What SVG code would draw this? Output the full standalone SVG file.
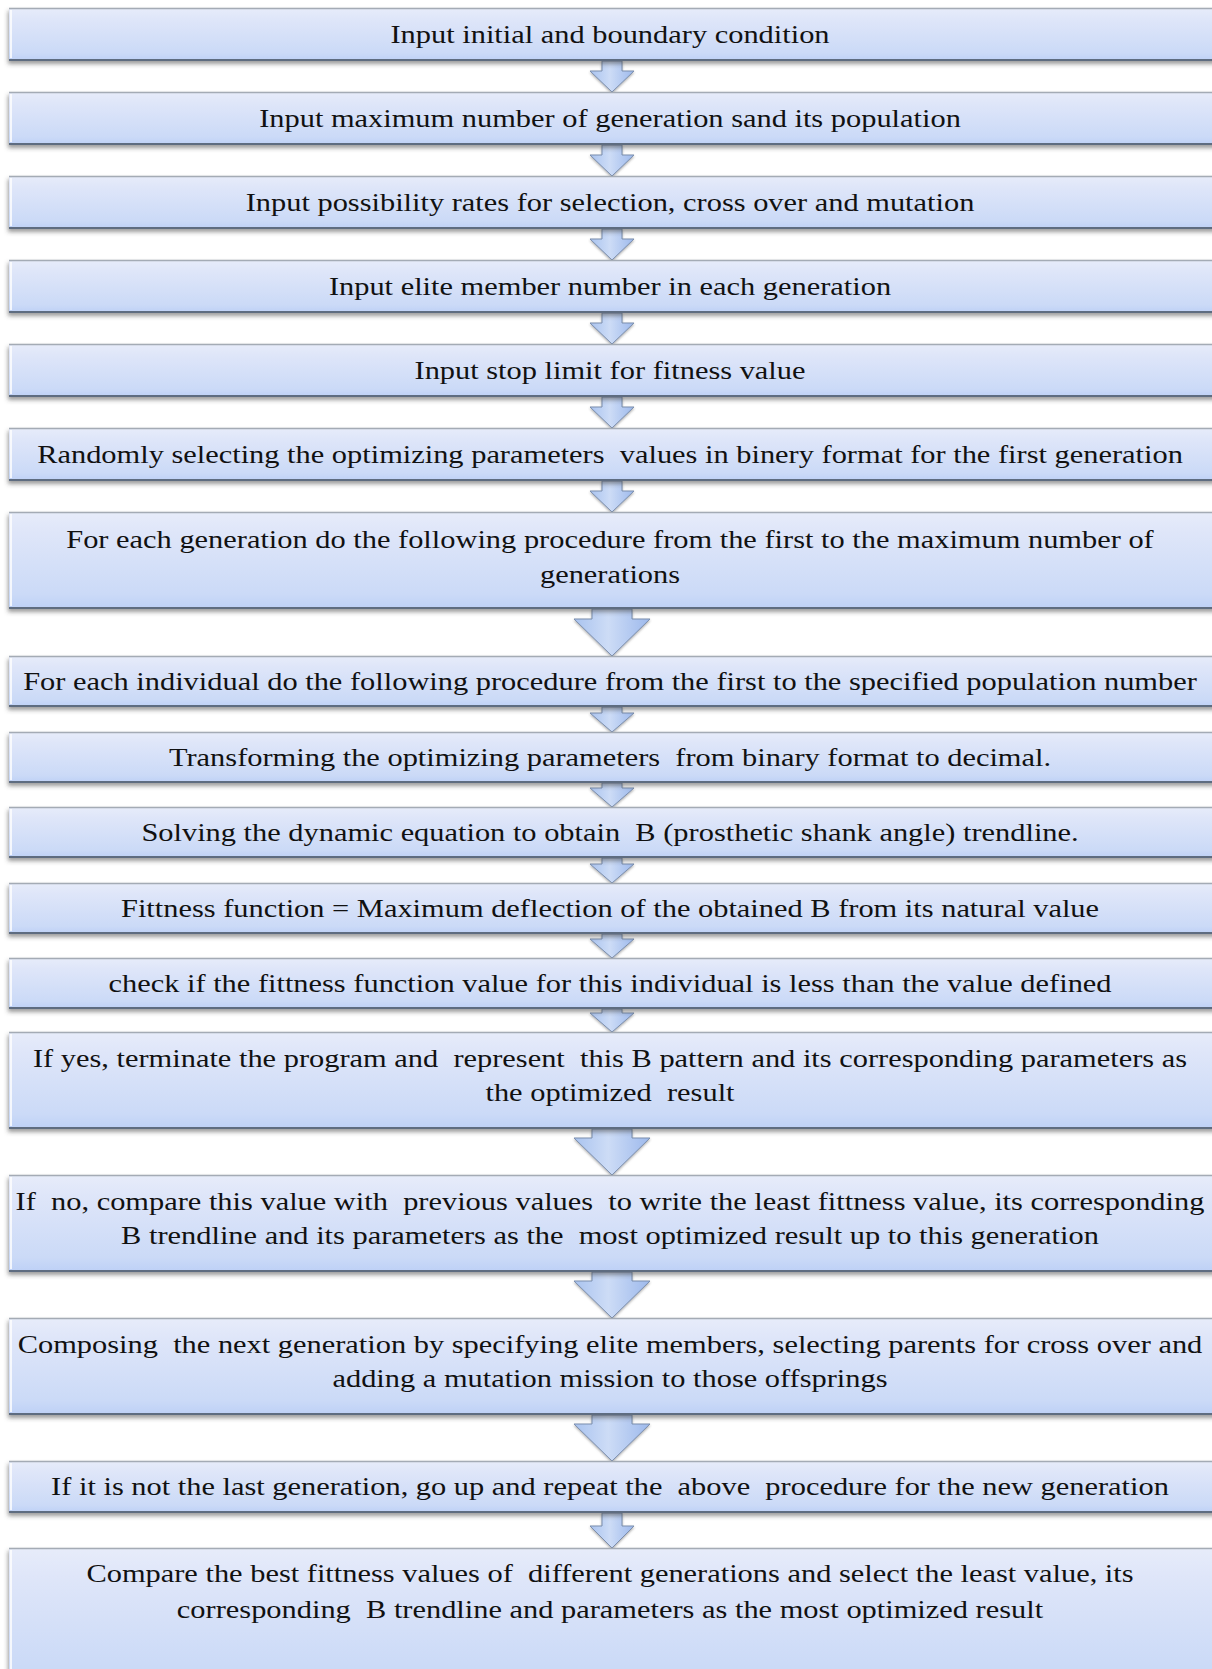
<svg xmlns="http://www.w3.org/2000/svg" width="1212" height="1669" viewBox="0 0 1212 1669">
<defs>
<linearGradient id="boxg" x1="0" y1="0" x2="0" y2="1">
<stop offset="0" stop-color="#e7ecfa"/>
<stop offset="0.2" stop-color="#dfe6f9"/>
<stop offset="0.85" stop-color="#cbdaf7"/>
<stop offset="1" stop-color="#bdd0f6"/>
</linearGradient>
<linearGradient id="arrg" x1="0" y1="0" x2="1" y2="0">
<stop offset="0" stop-color="#a9c3ef"/>
<stop offset="0.45" stop-color="#cddcf6"/>
<stop offset="1" stop-color="#9db9ec"/>
</linearGradient>
<filter id="sh" x="-5%" y="-20%" width="110%" height="150%">
<feDropShadow dx="-1" dy="3" stdDeviation="2" flood-color="#4a4a4a" flood-opacity="0.55"/>
</filter>
<filter id="ash" x="-30%" y="-30%" width="160%" height="160%">
<feDropShadow dx="0" dy="1.5" stdDeviation="1.2" flood-color="#555" flood-opacity="0.45"/>
</filter>
</defs>
<style>
.box{fill:url(#boxg);filter:url(#sh);}
.tl{stroke:#a4abb5;stroke-width:1.5;}
.bl{stroke:#5e6c80;stroke-width:2;}
.hl{stroke:#ffffff;stroke-width:2;opacity:0.8;}
.t{font-family:"Liberation Serif","Times New Roman",serif;font-size:26px;fill:#111;text-anchor:middle;white-space:pre;}
.arr{fill:url(#arrg);stroke:#7b8ead;stroke-width:1;filter:url(#ash);}
</style>
<rect width="1212" height="1669" fill="#ffffff"/>

<g id="connectors">
<path class="arr" d="M602,61 L622,61 L622,71 L634,71 L612,92 L590,71 L602,71 Z"/>
<path class="arr" d="M602,145 L622,145 L622,155 L634,155 L612,176 L590,155 L602,155 Z"/>
<path class="arr" d="M602,229 L622,229 L622,239 L634,239 L612,260 L590,239 L602,239 Z"/>
<path class="arr" d="M602,313 L622,313 L622,323 L634,323 L612,344 L590,323 L602,323 Z"/>
<path class="arr" d="M602,397 L622,397 L622,407 L634,407 L612,428 L590,407 L602,407 Z"/>
<path class="arr" d="M602,481 L622,481 L622,491 L634,491 L612,512 L590,491 L602,491 Z"/>
<path class="arr" d="M592,609 L632,609 L632,619 L650,619 L612,656 L574,619 L592,619 Z"/>
<path class="arr" d="M602,707 L622,707 L622,713 L634,713 L612,732 L590,713 L602,713 Z"/>
<path class="arr" d="M602,783 L622,783 L622,788 L634,788 L612,807 L590,788 L602,788 Z"/>
<path class="arr" d="M602,858 L622,858 L622,864 L634,864 L612,883 L590,864 L602,864 Z"/>
<path class="arr" d="M602,934 L622,934 L622,939 L634,939 L612,958 L590,939 L602,939 Z"/>
<path class="arr" d="M602,1009 L622,1009 L622,1013 L634,1013 L612,1032 L590,1013 L602,1013 Z"/>
<path class="arr" d="M592,1129 L632,1129 L632,1138 L650,1138 L612,1175 L574,1138 L592,1138 Z"/>
<path class="arr" d="M592,1272 L632,1272 L632,1281 L650,1281 L612,1318 L574,1281 L592,1281 Z"/>
<path class="arr" d="M592,1415 L632,1415 L632,1424 L650,1424 L612,1461 L574,1424 L592,1424 Z"/>
<path class="arr" d="M602,1513 L622,1513 L622,1526 L634,1526 L612,1548 L590,1526 L602,1526 Z"/>
</g>

<g id="n1"><rect class="box" x="9" y="8" width="1215" height="53"/><line class="tl" x1="9" y1="8.5" x2="1212" y2="8.5"/><line class="bl" x1="9" y1="60" x2="1212" y2="60"/><line class="hl" x1="11" y1="10" x2="11" y2="58"/>
<g transform="translate(610,0) scale(1.17,1)"><text class="t" x="0" y="43">Input initial and boundary condition</text></g></g>

<g id="n2"><rect class="box" x="9" y="92" width="1215" height="53"/><line class="tl" x1="9" y1="92.5" x2="1212" y2="92.5"/><line class="bl" x1="9" y1="144" x2="1212" y2="144"/><line class="hl" x1="11" y1="94" x2="11" y2="142"/>
<g transform="translate(610,0) scale(1.17,1)"><text class="t" x="0" y="127">Input maximum number of generation sand its population</text></g></g>

<g id="n3"><rect class="box" x="9" y="176" width="1215" height="53"/><line class="tl" x1="9" y1="176.5" x2="1212" y2="176.5"/><line class="bl" x1="9" y1="228" x2="1212" y2="228"/><line class="hl" x1="11" y1="178" x2="11" y2="226"/>
<g transform="translate(610,0) scale(1.17,1)"><text class="t" x="0" y="211">Input possibility rates for selection, cross over and mutation</text></g></g>

<g id="n4"><rect class="box" x="9" y="260" width="1215" height="53"/><line class="tl" x1="9" y1="260.5" x2="1212" y2="260.5"/><line class="bl" x1="9" y1="312" x2="1212" y2="312"/><line class="hl" x1="11" y1="262" x2="11" y2="310"/>
<g transform="translate(610,0) scale(1.17,1)"><text class="t" x="0" y="295">Input elite member number in each generation</text></g></g>

<g id="n5"><rect class="box" x="9" y="344" width="1215" height="53"/><line class="tl" x1="9" y1="344.5" x2="1212" y2="344.5"/><line class="bl" x1="9" y1="396" x2="1212" y2="396"/><line class="hl" x1="11" y1="346" x2="11" y2="394"/>
<g transform="translate(610,0) scale(1.17,1)"><text class="t" x="0" y="379">Input stop limit for fitness value</text></g></g>

<g id="n6"><rect class="box" x="9" y="428" width="1215" height="53"/><line class="tl" x1="9" y1="428.5" x2="1212" y2="428.5"/><line class="bl" x1="9" y1="480" x2="1212" y2="480"/><line class="hl" x1="11" y1="430" x2="11" y2="478"/>
<g transform="translate(610,0) scale(1.17,1)"><text class="t" x="0" y="463">Randomly selecting the optimizing parameters  values in binery format for the first generation</text></g></g>

<g id="n7"><rect class="box" x="9" y="512" width="1215" height="97"/><line class="tl" x1="9" y1="512.5" x2="1212" y2="512.5"/><line class="bl" x1="9" y1="608" x2="1212" y2="608"/><line class="hl" x1="11" y1="514" x2="11" y2="606"/>
<g transform="translate(610,0) scale(1.17,1)"><text class="t" x="0" y="548">For each generation do the following procedure from the first to the maximum number of</text><text class="t" x="0" y="583">generations</text></g></g>

<g id="n8"><rect class="box" x="9" y="656" width="1215" height="51"/><line class="tl" x1="9" y1="656.5" x2="1212" y2="656.5"/><line class="bl" x1="9" y1="706" x2="1212" y2="706"/><line class="hl" x1="11" y1="658" x2="11" y2="704"/>
<g transform="translate(610,0) scale(1.17,1)"><text class="t" x="0" y="690">For each individual do the following procedure from the first to the specified population number</text></g></g>

<g id="n9"><rect class="box" x="9" y="732" width="1215" height="51"/><line class="tl" x1="9" y1="732.5" x2="1212" y2="732.5"/><line class="bl" x1="9" y1="782" x2="1212" y2="782"/><line class="hl" x1="11" y1="734" x2="11" y2="780"/>
<g transform="translate(610,0) scale(1.17,1)"><text class="t" x="0" y="766">Transforming the optimizing parameters  from binary format to decimal.</text></g></g>

<g id="n10"><rect class="box" x="9" y="807" width="1215" height="51"/><line class="tl" x1="9" y1="807.5" x2="1212" y2="807.5"/><line class="bl" x1="9" y1="857" x2="1212" y2="857"/><line class="hl" x1="11" y1="809" x2="11" y2="855"/>
<g transform="translate(610,0) scale(1.17,1)"><text class="t" x="0" y="841">Solving the dynamic equation to obtain  B (prosthetic shank angle) trendline.</text></g></g>

<g id="n11"><rect class="box" x="9" y="883" width="1215" height="51"/><line class="tl" x1="9" y1="883.5" x2="1212" y2="883.5"/><line class="bl" x1="9" y1="933" x2="1212" y2="933"/><line class="hl" x1="11" y1="885" x2="11" y2="931"/>
<g transform="translate(610,0) scale(1.17,1)"><text class="t" x="0" y="917">Fittness function = Maximum deflection of the obtained B from its natural value</text></g></g>

<g id="n12"><rect class="box" x="9" y="958" width="1215" height="51"/><line class="tl" x1="9" y1="958.5" x2="1212" y2="958.5"/><line class="bl" x1="9" y1="1008" x2="1212" y2="1008"/><line class="hl" x1="11" y1="960" x2="11" y2="1006"/>
<g transform="translate(610,0) scale(1.17,1)"><text class="t" x="0" y="992">check if the fittness function value for this individual is less than the value defined</text></g></g>

<g id="n13"><rect class="box" x="9" y="1032" width="1215" height="97"/><line class="tl" x1="9" y1="1032.5" x2="1212" y2="1032.5"/><line class="bl" x1="9" y1="1128" x2="1212" y2="1128"/><line class="hl" x1="11" y1="1034" x2="11" y2="1126"/>
<g transform="translate(610,0) scale(1.17,1)"><text class="t" x="0" y="1067">If yes, terminate the program and  represent  this B pattern and its corresponding parameters as</text><text class="t" x="0" y="1101">the optimized  result</text></g></g>

<g id="n14"><rect class="box" x="9" y="1175" width="1215" height="97"/><line class="tl" x1="9" y1="1175.5" x2="1212" y2="1175.5"/><line class="bl" x1="9" y1="1271" x2="1212" y2="1271"/><line class="hl" x1="11" y1="1177" x2="11" y2="1269"/>
<g transform="translate(610,0) scale(1.17,1)"><text class="t" x="0" y="1210">If  no, compare this value with  previous values  to write the least fittness value, its corresponding</text><text class="t" x="0" y="1244">B trendline and its parameters as the  most optimized result up to this generation</text></g></g>

<g id="n15"><rect class="box" x="9" y="1318" width="1215" height="97"/><line class="tl" x1="9" y1="1318.5" x2="1212" y2="1318.5"/><line class="bl" x1="9" y1="1414" x2="1212" y2="1414"/><line class="hl" x1="11" y1="1320" x2="11" y2="1412"/>
<g transform="translate(610,0) scale(1.17,1)"><text class="t" x="0" y="1353">Composing  the next generation by specifying elite members, selecting parents for cross over and</text><text class="t" x="0" y="1387">adding a mutation mission to those offsprings</text></g></g>

<g id="n16"><rect class="box" x="9" y="1461" width="1215" height="52"/><line class="tl" x1="9" y1="1461.5" x2="1212" y2="1461.5"/><line class="bl" x1="9" y1="1512" x2="1212" y2="1512"/><line class="hl" x1="11" y1="1463" x2="11" y2="1510"/>
<g transform="translate(610,0) scale(1.17,1)"><text class="t" x="0" y="1495">If it is not the last generation, go up and repeat the  above  procedure for the new generation</text></g></g>

<g id="n17"><rect class="box" x="9" y="1548" width="1215" height="140"/><line class="tl" x1="9" y1="1548.5" x2="1212" y2="1548.5"/><line class="hl" x1="11" y1="1550" x2="11" y2="1669"/>
<g transform="translate(610,0) scale(1.17,1)"><text class="t" x="0" y="1582">Compare the best fittness values of  different generations and select the least value, its</text><text class="t" x="0" y="1618">corresponding  B trendline and parameters as the most optimized result</text></g></g>
</svg>
